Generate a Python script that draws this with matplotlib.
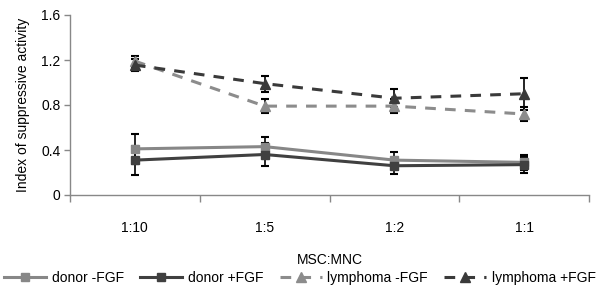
import matplotlib
matplotlib.use("Agg")
import matplotlib.pyplot as plt
from matplotlib.lines import Line2D

plt.rcParams['font.family'] = ['Liberation Sans', 'DejaVu Sans']

categories = ["1:10", "1:5", "1:2", "1:1"]
donor_minus = [0.41, 0.43, 0.31, 0.29]
donor_minus_err = [0.13, 0.09, 0.07, 0.07]
donor_plus = [0.31, 0.36, 0.26, 0.27]
donor_plus_err = [0.13, 0.10, 0.07, 0.07]
lymph_minus = [1.19, 0.79, 0.79, 0.72]
lymph_minus_err = [0.05, 0.06, 0.06, 0.06]
lymph_plus = [1.155, 0.99, 0.86, 0.90]
lymph_plus_err = [0.05, 0.07, 0.08, 0.14]
labels = ["donor -FGF", "donor +FGF", "lymphoma -FGF", "lymphoma +FGF"]

fig = plt.figure(figsize=(6.0, 2.95), dpi=100)
ax = fig.add_axes([70/600, 1-195/295, (589-70)/600, 180/295])

x = list(range(len(categories)))
series = [
    (donor_minus, donor_minus_err, '#878787', '-', 's', 5.5),
    (donor_plus, donor_plus_err, '#404040', '-', 's', 5.5),
    (lymph_minus, lymph_minus_err, '#8c8c8c', (0, (3.5, 3)), '^', 7),
    (lymph_plus, lymph_plus_err, '#3a3a3a', (0, (3.5, 3)), '^', 7),
]
handles = []
for (vals, errs, col, ls, mk, ms), lab in zip(series, labels):
    ax.errorbar(x, vals, yerr=errs, fmt='none', ecolor='black', elinewidth=1.2,
                capsize=3, capthick=1.5, zorder=2)
    ax.plot(x, vals, color=col, linestyle=ls, linewidth=2.2, marker=mk,
            markersize=ms, markerfacecolor=col, markeredgecolor=col, zorder=3)
    handles.append(Line2D([], [], color=col, linestyle=ls, linewidth=2.2,
                          marker=mk, markersize=ms, markerfacecolor=col,
                          markeredgecolor=col))

ax.set_xlim(-0.5, len(categories) - 0.5)
ax.set_ylim(0, 1.6)
ax.set_yticks([0, 0.4, 0.8, 1.2, 1.6])
ax.set_yticklabels(["0", "0.4", "0.8", "1.2", "1.6"])
ax.set_xticks(x)
ax.set_xticklabels(categories)
ax.set_xticks([i - 0.5 for i in range(len(categories) + 1)], minor=True)
ax.tick_params(axis='x', which='major', length=0, pad=19, labelsize=10)
ax.tick_params(axis='x', which='minor', length=5, width=1, color='#888888', direction='out')
ax.tick_params(axis='y', length=4, width=1, color='#888888', direction='out', labelsize=10, pad=3)

for s in ['top', 'right']:
    ax.spines[s].set_visible(False)
for s in ['left', 'bottom']:
    ax.spines[s].set_color('#888888')
    ax.spines[s].set_linewidth(1)

ax.set_ylabel("Index of suppressive activity", fontsize=10, labelpad=8)
ax.set_xlabel("MSC:MNC", fontsize=10, labelpad=13)

fig.legend(handles, labels, loc='center', bbox_to_anchor=(0.5, 1-278/295), ncol=4,
           frameon=False, fontsize=10, handlelength=3.0, handletextpad=0.4,
           columnspacing=1.2)

fig.savefig("out.png", dpi=100)
